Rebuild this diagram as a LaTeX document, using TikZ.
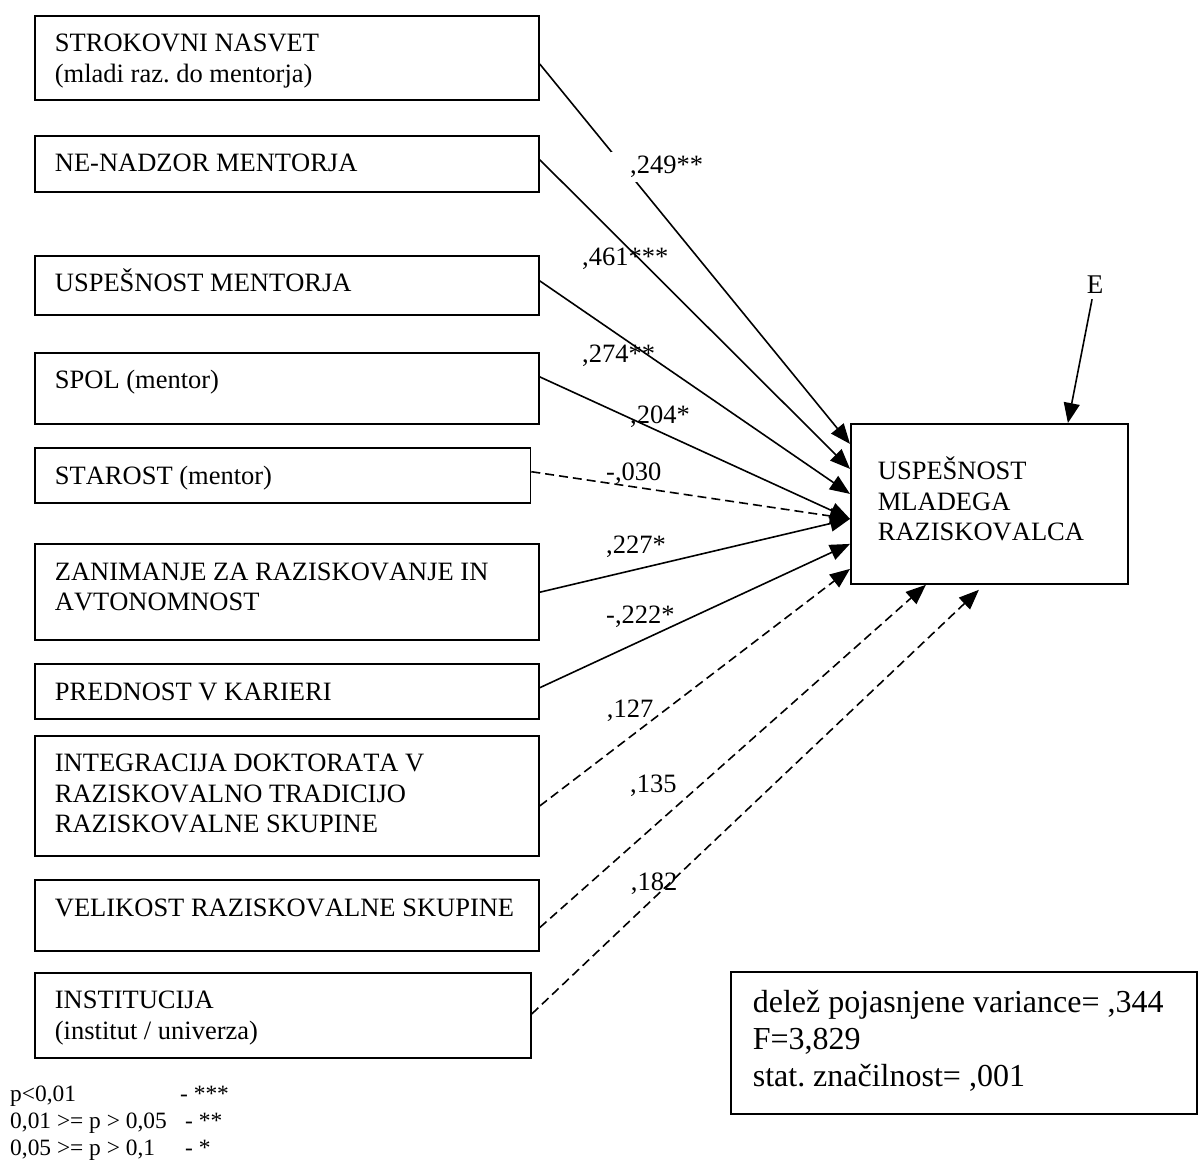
\documentclass[tikz,border=0pt]{standalone}
\usepackage{fontspec}
\setmainfont[Kerning=Off]{Liberation Serif}
\usetikzlibrary{arrows.meta}
\frenchspacing
\newcommand\tbox[5]{\parbox[t][#2][t]{#1}{\raggedright\leftskip=#4\relax\rule{0pt}{#5}#3}}
\newcommand\vtext[3]{\tbox{#1}{#2}{#3}{20pt}{36pt}}
\tikzset{
  vbox/.style={draw, line width=1.8pt, anchor=north west, inner sep=0pt, font=\fontsize{26.5}{30.5}\selectfont},
  coef/.style={anchor=base west, inner sep=0pt, font=\fontsize{26.5}{30.5}\selectfont},
  arr/.style={line width=1.6pt, -{Triangle[length=20pt,width=16pt]}},
  darr/.style={arr, dash pattern=on 9pt off 5pt},
  leg/.style={anchor=base west, inner sep=0pt, font=\fontsize{23.4}{27.5}\selectfont},
}
\begin{document}
\begin{tikzpicture}[x=1pt,y=-1pt]
\useasboundingbox (0,0) rectangle (1201,1160);
% predictor boxes
\node[vbox] (b1) at (34,15) {\vtext{504pt}{84.3pt}{STROKOVNI NASVET\\(mladi raz. do mentorja)}};
\node[vbox] (b2) at (34,135) {\vtext{504pt}{55.7pt}{NE-NADZOR MENTORJA}};
\node[vbox] (b3) at (34,255) {\vtext{504pt}{59pt}{USPEŠNOST MENTORJA}};
\node[vbox] (b4) at (34,351.7) {\vtext{504pt}{71.6pt}{SPOL (mentor)}};
\node[vbox] (b5) at (34,447.3) {\vtext{495.5pt}{55pt}{STAROST (mentor)}};
\node[vbox] (b6) at (34,543.3) {\vtext{504pt}{96pt}{ZANIMANJE ZA RAZISKOVANJE IN\\AVTONOMNOST}};
\node[vbox] (b7) at (34,663.3) {\vtext{504pt}{55pt}{PREDNOST V KARIERI}};
\node[vbox] (b8) at (34,735) {\vtext{504pt}{120pt}{INTEGRACIJA DOKTORATA V\\RAZISKOVALNO TRADICIJO\\RAZISKOVALNE SKUPINE}};
\node[vbox] (b9) at (34,879.3) {\vtext{504pt}{70.7pt}{VELIKOST RAZISKOVALNE SKUPINE}};
\node[vbox] (b10) at (34,971.7) {\vtext{496pt}{85.6pt}{INSTITUCIJA\\(institut / univerza)}};
% target
\node[vbox] (t) at (850,423) {\tbox{277pt}{160pt}{USPEŠNOST\\MLADEGA\\RAZISKOVALCA}{27pt}{56pt}};
% stats
\node[vbox, line width=1.6pt, font=\fontsize{32}{37.2}\selectfont] (s) at (730,971) {\tbox{466pt}{142pt}{delež pojasnjene variance= ,344\\F=3,829\\stat. značilnost= ,001}{22pt}{40.7pt}};
% error term
\node[font=\fontsize{27}{31}\selectfont, anchor=base, inner sep=6pt] (E) at (1095,293) {E};
\coordinate (etip) at ([xshift=78.5pt]t.north);
\draw[arr] (E) -- (etip);
% coefficient labels
\node[coef] (l2) at (582,265) {,461***};
\node[coef] (l3) at (582,362) {,274**};
\node[coef] (l4) at (630,423) {,204*};
\node[coef] (l5) at (606,480) {-,030};
\node[coef] (l6) at (606,553) {,227*};
\node[coef] (l7) at (606,623) {-,222*};
\node[coef] (l8) at (606.7,717.3) {,127};
\node[coef] (l9) at (630,792.7) {,135};
\node[coef] (l10) at (630.7,890) {,182};
% paths
\draw[arr] ([yshift=-6pt]b1.east) -- ([yshift=60pt]t.west);
\draw[arr] ([yshift=4pt]b2.east) -- ([yshift=35pt]t.west);
\draw[arr] ([yshift=4.5pt]b3.east) -- ([yshift=10pt]t.west);
\draw[arr] ([yshift=11.5pt]b4.east) -- ([yshift=-15pt]t.west);
\draw[darr] ([yshift=4pt]b5.east) -- ([yshift=-15pt]t.west);
\draw[arr] (b6.east) -- ([yshift=-15pt]t.west);
\draw[arr] ([yshift=4pt]b7.east) -- ([yshift=-40pt]t.west);
\draw[darr] ([yshift=-10pt]b8.east) -- ([yshift=-65pt]t.west);
\draw[darr] ([yshift=-12pt]b9.east) -- ([xshift=-63.5pt]t.south);
\draw[darr] ([yshift=1.5pt]b10.east) -- ([xshift=-10.5pt,yshift=-5pt]t.south);
\node[coef, fill=white, inner xsep=19pt, inner ysep=3pt, text height=18pt, text depth=6pt] (l1) at (611,173) {,249**};
% legend
\node[leg] (g1) at (10,1101.7) {\makebox[170pt][l]{p<0,01}- ***};
\node[leg] (g2) at (10,1128.3) {\makebox[175pt][l]{0,01 >= p > 0,05}- **};
\node[leg] (g3) at (10,1155) {\makebox[175pt][l]{0,05 >= p > 0,1}- *};
\end{tikzpicture}
\end{document}
